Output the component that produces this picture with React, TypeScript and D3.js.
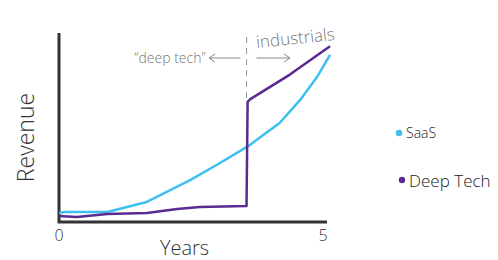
import React from 'react';
import * as d3 from 'd3';

// years since founding, revenue in arbitrary units (0-100)
const saasYears = [0, 0.1, 0.89, 1.62, 2.42, 2.97, 3.52, 4.07, 4.45, 4.76, 5.0];
const saasRevenue = [4.8, 5.3, 5.3, 10.6, 22.2, 31.2, 40.7, 52.4, 64.6, 76.7, 88.4];

const deepYears = [0, 0.33, 0.89, 1.62, 2.18, 2.6, 3.46, 3.48, 3.53, 4.26, 5.0];
const deepRevenue = [3.2, 2.6, 4.2, 4.8, 6.9, 7.9, 8.5, 63.5, 65, 78, 93];

const xTicks = [0, 5];
const jumpYear = 3.46;

const seriesNames = ['SaaS', 'Deep Tech'];
const seriesColors = ['#3ebff0', '#5a2b8f'];

const font = "'Open Sans', sans-serif";

function App() {
  const width = 498;
  const height = 260;
  const margin = { top: 33, left: 59, right: 168, bottom: 38 };

  const xScale = d3
    .scaleLinear()
    .domain([0, 5])
    .range([margin.left, width - margin.right]);
  const yScale = d3
    .scaleLinear()
    .domain([0, 100])
    .range([height - margin.bottom, margin.top]);

  const line = d3
    .line<[number, number]>()
    .x((d) => xScale(d[0]))
    .y((d) => yScale(d[1]));

  const saas = saasYears.map((y, i) => [y, saasRevenue[i]] as [number, number]);
  const deep = deepYears.map((y, i) => [y, deepRevenue[i]] as [number, number]);

  const x0 = xScale(0);
  const y0 = yScale(0);
  const jx = xScale(jumpYear);

  return (
    <svg
      width={width}
      height={height}
      style={{ position: 'absolute', left: 0, top: 0, background: '#fff' }}
    >
      {/* axes */}
      <path
        d={`M ${x0} ${yScale(100)} V ${y0} H ${xScale(5) - 3}`}
        fill="none"
        stroke="#333"
        strokeWidth={3}
      />
      {xTicks.map((t) => (
        <text
          key={t}
          x={xScale(t) - (t === 5 ? 7 : 0)}
          y={y0 + 19}
          textAnchor="middle"
          fontFamily={font}
          fontWeight={300}
          fontSize={16}
          fill="#333"
        >
          {t}
        </text>
      ))}
      <text
        x={(x0 + xScale(5)) / 2 - 10}
        y={height - 5}
        textAnchor="middle"
        fontFamily={font}
        fontWeight={300}
        fontSize={20}
        fill="#333"
      >
        Years
      </text>
      <text
        transform={`translate(34 ${(yScale(100) + y0) / 2 + 10}) rotate(-90)`}
        textAnchor="middle"
        fontFamily={font}
        fontWeight={300}
        fontSize={23}
        fill="#333"
      >
        Revenue
      </text>

      {/* divider annotation */}
      <line
        x1={jx}
        x2={jx}
        y1={37}
        y2={yScale(64) - 3}
        stroke="#999"
        strokeWidth={1}
        strokeDasharray="6 5"
      />
      <text
        x={170}
        y={63}
        textAnchor="middle"
        fontFamily={font}
        fontWeight={300}
        fontSize={14}
        fill="#777"
      >
        “deep tech”
      </text>
      <path d={`M ${jx - 6} 58 H 209 M 215 54 L 209 58 L 215 62`} fill="none" stroke="#888" strokeWidth={1} />
      <path d={`M ${jx + 10} 58 H 290 M 284 54 L 290 58 L 284 62`} fill="none" stroke="#888" strokeWidth={1} />
      <text
        transform="translate(296 44) rotate(-6)"
        textAnchor="middle"
        fontFamily={font}
        fontWeight={300}
        fontSize={17}
        fill="#777"
      >
        industrials
      </text>

      {/* series */}
      <path d={line(saas) ?? ''} fill="none" stroke={seriesColors[0]} strokeWidth={2.5} strokeLinejoin="round" />
      <path d={line(deep) ?? ''} fill="none" stroke={seriesColors[1]} strokeWidth={2.5} strokeLinejoin="round" />

      {/* legend */}
      {seriesNames.map((name, i) => (
        <g key={name} transform={`translate(${399 + i * 3} ${133 + i * 47})`}>
          <circle r={3.2} fill={seriesColors[i]} />
          <text
            x={7}
            y={i === 0 ? 5 : 7}
            fontFamily={font}
            fontWeight={300}
            fontSize={i === 0 ? 14 : 17}
            fill="#222"
          >
            {name}
          </text>
        </g>
      ))}
    </svg>
  );
}

export default App;
